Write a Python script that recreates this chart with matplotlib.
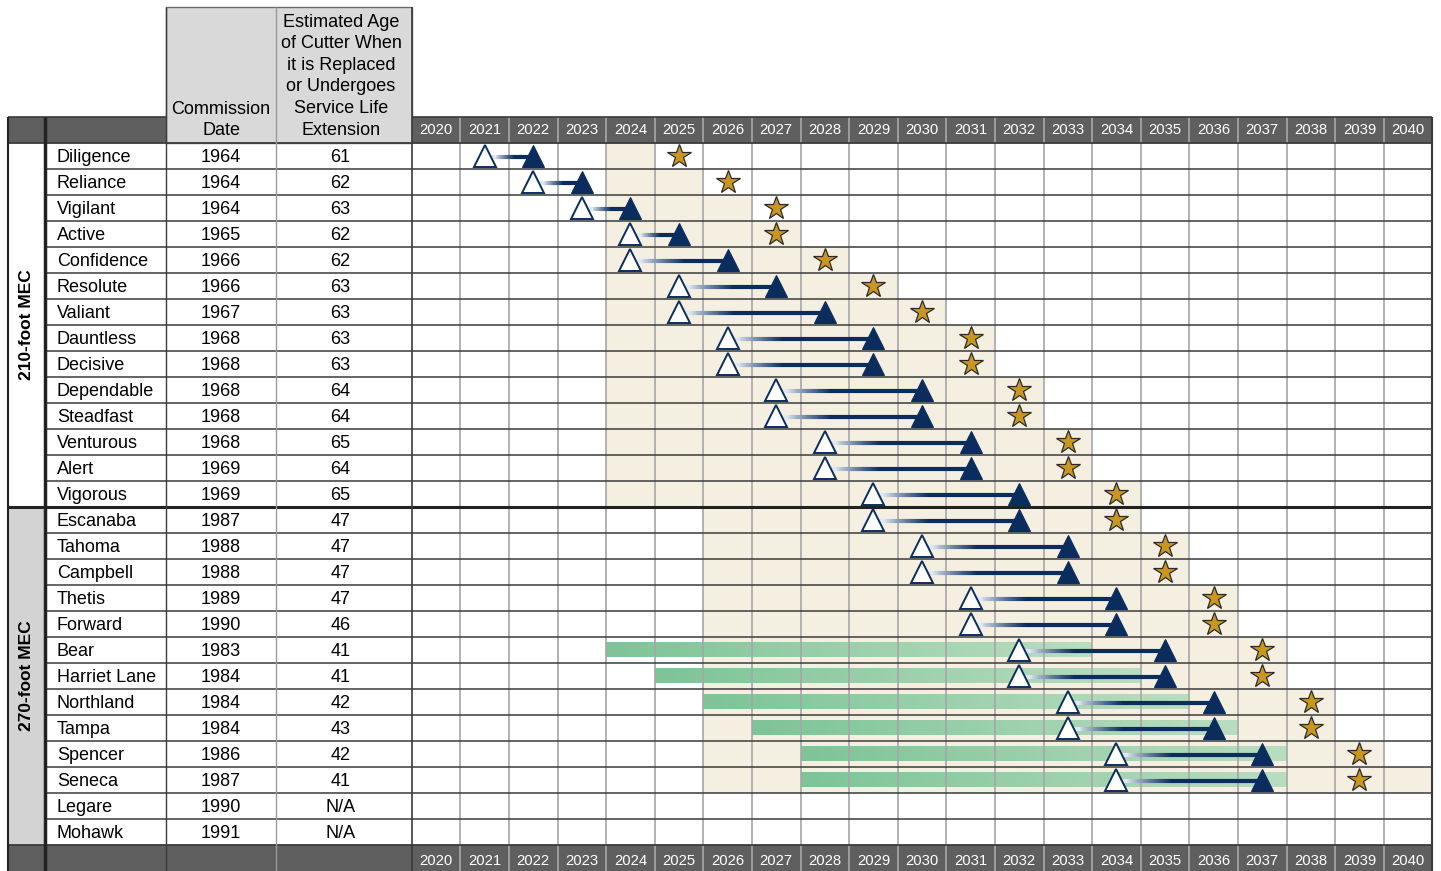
import numpy as np
import matplotlib.pyplot as plt
from matplotlib.collections import LineCollection
from matplotlib.colors import LinearSegmentedColormap, to_rgb
from matplotlib.patches import Rectangle

plt.rcParams['font.family'] = ['Liberation Sans', 'DejaVu Sans']

# ---- data ----
cutters = ['Diligence', 'Reliance', 'Vigilant', 'Active', 'Confidence', 'Resolute',
           'Valiant', 'Dauntless', 'Decisive', 'Dependable', 'Steadfast', 'Venturous',
           'Alert', 'Vigorous', 'Escanaba', 'Tahoma', 'Campbell', 'Thetis', 'Forward',
           'Bear', 'Harriet Lane', 'Northland', 'Tampa', 'Spencer', 'Seneca',
           'Legare', 'Mohawk']
commission = [1964, 1964, 1964, 1965, 1966, 1966, 1967, 1968, 1968, 1968, 1968, 1968,
              1969, 1969, 1987, 1988, 1988, 1989, 1990, 1983, 1984, 1984, 1984, 1986,
              1987, 1990, 1991]
age_at_event = ['61', '62', '63', '62', '62', '63', '63', '63', '63', '64', '64', '65',
                '64', '65', '47', '47', '47', '47', '46', '41', '41', '42', '43', '42',
                '41', 'N/A', 'N/A']
groups = ['210-foot MEC', '270-foot MEC']
group_size = [14, 13]
years = list(range(2020, 2041))

# white triangle -> dark triangle, star
open_year = [2021, 2022, 2023, 2024, 2024, 2025, 2025, 2026, 2026, 2027, 2027, 2028,
             2028, 2029, 2029, 2030, 2030, 2031, 2031, 2032, 2032, 2033, 2033, 2034,
             2034, None, None]
filled_year = [2022, 2023, 2024, 2025, 2026, 2027, 2028, 2029, 2029, 2030, 2030, 2031,
               2031, 2032, 2032, 2033, 2033, 2034, 2034, 2035, 2035, 2036, 2036, 2037,
               2037, None, None]
star_year = [2025, 2026, 2027, 2027, 2028, 2029, 2030, 2031, 2031, 2032, 2032, 2033,
             2033, 2034, 2034, 2035, 2035, 2036, 2036, 2037, 2037, 2038, 2038, 2039,
             2039, None, None]

# tan background band per row (first and last year cell)
shade_start = [2024, 2024, 2024, 2024, 2024, 2024, 2024, 2024, 2024, 2024, 2024, 2024,
               2024, 2024, 2026, 2026, 2026, 2026, 2026, 2026, 2026, 2026, 2026, 2026,
               2026, None, None]
shade_end = [2024, 2025, 2026, 2027, 2028, 2029, 2030, 2031, 2031, 2032, 2032, 2033,
             2033, 2034, 2034, 2035, 2035, 2036, 2036, 2037, 2037, 2038, 2038, 2039,
             2040, None, None]

# green bars
green_cutters = ['Bear', 'Harriet Lane', 'Northland', 'Tampa', 'Spencer', 'Seneca']
green_start = [2024, 2025, 2026, 2027, 2028, 2028]
green_end = [2033, 2034, 2035, 2036, 2037, 2037]

# ---- styling ----
NAVY = '#0b2d5e'
PALE = '#dfe7f1'
GOLD = '#c9971d'
TAN = '#f5efe2'
DARK = '#5f5f5f'
HEAD = '#d9d9d9'
BAND = '#d3d3d3'
LINE = '#3a3a3a'
GRID = '#a6a6a6'

PX_PER_YEAR = 48.6
X0_PX = 411.7


def px(p):
    """pixel column -> year axis units (used for the table part on the left)"""
    return years[0] - 0.5 + (p - X0_PX) / PX_PER_YEAR


n = len(cutters)
rows = np.arange(n) + 0.5
xl, xr = years[0] - 0.5, years[-1] + 0.5
head_top = -5.23
text_dy = 0.07

fig = plt.figure(figsize=(14.41, 8.71), dpi=100)
ax = fig.add_axes([0, 0, 1, 1])
ax.axis('off')

# tan shading
for i in range(n):
    if shade_start[i] is not None:
        ax.add_patch(Rectangle((shade_start[i] - 0.5, i), shade_end[i] - shade_start[i] + 1, 1,
                               fc=TAN, lw=0, zorder=0))

# green gradient bars
green_cmap = LinearSegmentedColormap.from_list('g', ['#7dc498', '#b9ddc0'])
for name, s, e in zip(green_cutters, green_start, green_end):
    r = cutters.index(name) + 0.5
    ax.imshow(np.linspace(0, 1, 256)[None, :], cmap=green_cmap, aspect='auto',
              extent=(s - 0.5, e + 0.5, r + 0.27, r - 0.27), interpolation='bilinear',
              zorder=1)

# table background pieces
ax.add_patch(Rectangle((px(8), group_size[0]), px(45) - px(8), group_size[1], fc=BAND, lw=0, zorder=0))
ax.add_patch(Rectangle((px(166), head_top), px(412) - px(166), -head_top, fc=HEAD,
                       ec='#6a6a6a', lw=1, zorder=0))
ax.add_patch(Rectangle((px(8), -1), px(166) - px(8), 1, fc=DARK, lw=0, zorder=0))
ax.add_patch(Rectangle((xl, -1), xr - xl, 1, fc=DARK, lw=0, zorder=0))
ax.add_patch(Rectangle((px(8), n), xr - px(8), 1, fc=DARK, lw=0, zorder=0))

# grid
seps = np.arange(years[0] + 0.5, years[-1])
ax.vlines(seps, 0, n, color=GRID, lw=1.2, zorder=2)
ax.vlines(seps, -1, 0, color='#a9a9a9', lw=1.2, zorder=2)
ax.vlines(seps, n, n + 1, color='#a9a9a9', lw=1.2, zorder=2)
inner = [r for r in range(1, n) if r != group_size[0]]
ax.hlines(inner, px(45), xr, color=LINE, lw=1.1, zorder=2)
ax.hlines([0, n], px(8), xr, color=LINE, lw=1.3, zorder=2)
ax.hlines(group_size[0], px(8), xr, color='#222222', lw=2.2, zorder=2)
ax.hlines(-1, px(8), px(166), color=LINE, lw=1.2, zorder=2)
ax.hlines(-1, xl, xr, color=LINE, lw=1.2, zorder=2)
ax.vlines(px(8), -1, n + 1, color='#222222', lw=1.5, zorder=2)
ax.vlines(px(45), -1, n + 1, color='#222222', lw=2.5, zorder=2)
ax.vlines(px(166), head_top, n + 1, color=LINE, lw=1.0, zorder=2)
ax.vlines(px(276), head_top, n + 1, color='#9a9a9a', lw=1.0, zorder=2)
ax.vlines(xl, head_top, n + 1, color=LINE, lw=1.2, zorder=2)
ax.vlines(xr, -1, n + 1, color=LINE, lw=1.5, zorder=2)


# gradient connector lines
def gradient_line(x0, x1, y):
    xs = np.linspace(x0, x1, 160)
    segs = np.stack([np.column_stack([xs[:-1], np.full(159, y)]),
                     np.column_stack([xs[1:], np.full(159, y)])], axis=1)
    start = x0 + 0.22
    fade = min(0.9, 0.5 * (x1 - start))
    t = np.clip((xs[:-1] - start) / fade, 0, 1) ** 0.8
    c0, c1 = np.array(to_rgb(PALE)), np.array(to_rgb(NAVY))
    colors = (1 - t)[:, None] * c0 + t[:, None] * c1
    ax.add_collection(LineCollection(segs, colors=colors, linewidths=3.0,
                                     capstyle='butt', zorder=3))


for i in range(n):
    if open_year[i] is not None:
        gradient_line(open_year[i], filled_year[i], rows[i] + 0.03)

o = np.array(open_year, dtype=float)
f = np.array(filled_year, dtype=float)
s = np.array(star_year, dtype=float)
ax.plot(o, rows, ls='none', marker='^', ms=15.5, mfc='white', mec=NAVY, mew=1.4, zorder=4)
ax.plot(f, rows, ls='none', marker='^', ms=16, mfc=NAVY, mec=NAVY, mew=0.8, zorder=4)
ax.plot(s, rows, ls='none', marker='*', ms=17.5, mfc=GOLD, mec='#2b2b2b', mew=0.9, zorder=4)

# table text
for i in range(n):
    y = rows[i] + text_dy
    ax.text(px(57), y, cutters[i], ha='left', va='center', fontsize=13, zorder=5)
    ax.text(px(221), y, str(commission[i]), ha='center', va='center', fontsize=13, zorder=5)
    ax.text(px(340.5), y, age_at_event[i], ha='center', va='center', fontsize=13, zorder=5)

for yr in years:
    ax.text(yr, -0.5, str(yr), ha='center', va='center', fontsize=10.7, color='white', zorder=5)
    ax.text(yr, n + 0.6, str(yr), ha='center', va='center', fontsize=10.7, color='white', zorder=5)

ax.text(px(221), -0.88, 'Commission\nDate', ha='center', va='center', fontsize=13,
        linespacing=1.35, zorder=5)
ax.text(px(341), -2.57, 'Estimated Age\nof Cutter When\nit is Replaced\nor Undergoes\n'
        'Service Life\nExtension', ha='center', va='center', fontsize=13,
        linespacing=1.35, zorder=5)

start = 0
for g, size in zip(groups, group_size):
    ax.text(px(26.5), start + size / 2, g, rotation=90, ha='center', va='center',
            fontsize=12.5, fontweight='bold', zorder=5)
    start += size

ax.set_xlim(px(0), px(1441))
ax.set_ylim(n + 1.0, -5.5)

fig.savefig('out.png', dpi=100)
